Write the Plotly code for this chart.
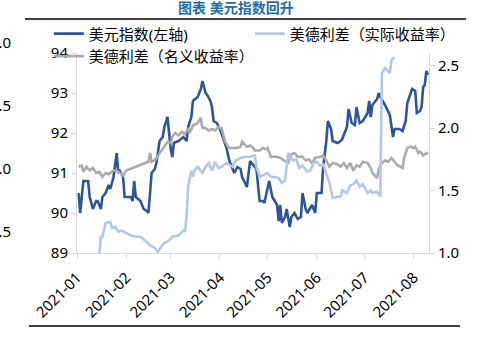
import pandas as pd
import plotly.graph_objects as go

# ---------------- data (day offset from 2021-01-01, value) ----------------
dxy_days = [1, 2, 3, 4, 7, 8, 10, 12, 13, 15, 16, 18, 20, 21, 23, 25, 26, 27, 29, 30,
            32, 34, 35, 36, 37, 40, 42, 44, 45, 46, 47, 49, 50, 52, 54, 55, 57, 58, 59, 60,
            61, 64, 67, 68, 69, 70, 72, 73, 76, 78, 79, 81, 82, 84, 85, 86, 88, 90, 92, 94,
            96, 98, 99, 101, 103, 104, 107, 109, 111, 113, 115, 117, 118, 120, 121, 123, 125, 126, 127, 128,
            129, 131, 132, 134, 135, 137, 139, 141, 142, 144, 145, 148, 150, 151, 154, 155, 157, 158, 160, 161,
            164, 166, 167, 170, 171, 173, 175, 176, 178, 180, 183, 184, 185, 186, 189, 190, 191, 194, 197, 199,
            200, 203, 205, 207, 208, 210, 211, 213, 214, 216, 217, 218, 219, 220, 221]
dxy_vals = [90.5, 90.0, 90.4, 90.8, 90.8, 90.4, 90.1, 90.3, 90.3, 90.1, 90.4, 90.5, 90.7, 90.6, 90.9, 91.5, 91.0, 91.05, 90.9, 90.4,
            90.4, 90.4, 90.3, 90.8, 90.4, 90.3, 90.1, 90.05, 90.0, 90.65, 91.0, 91.1, 91.25, 91.8, 91.9, 92.15, 92.4, 92.0, 91.6, 91.4,
            91.75, 91.8, 91.9, 91.85, 91.8, 92.15, 92.4, 92.8, 92.9, 93.1, 93.3, 93.0, 92.95, 92.8, 92.65, 92.3, 92.25, 92.1, 91.9, 91.65,
            91.3, 91.1, 91.0, 91.15, 91.1, 90.9, 90.65, 91.3, 91.2, 91.1, 90.3, 90.3, 90.25, 90.6, 90.8, 90.4, 90.25, 90.2, 89.8, 90.2,
            89.75, 89.9, 90.1, 89.65, 89.9, 90.0, 89.85, 89.9, 90.5, 90.1, 90.0, 90.2, 90.0, 90.5, 90.5, 91.15, 91.8, 92.3, 92.1, 91.8,
            91.75, 91.8, 91.85, 92.15, 92.6, 92.25, 92.2, 92.65, 92.25, 92.3, 92.5, 92.8, 92.4, 92.7, 92.85, 93.0, 92.9, 92.7, 92.45, 91.9,
            92.1, 92.1, 92.05, 92.3, 92.75, 92.95, 93.1, 93.05, 92.5, 92.55, 92.65, 93.15, 93.2, 93.55, 93.45]

real_days = [14, 15, 16, 18, 21, 22, 24, 26, 28, 31, 34, 37, 40, 43, 46, 49, 51, 53, 55, 58,
             60, 64, 67, 68, 69, 70, 72, 73, 74, 76, 79, 81, 83, 85, 87, 89, 91, 94, 98, 100,
             103, 106, 109, 112, 113, 115, 117, 120, 122, 123, 127, 129, 131, 133, 134, 136, 138, 140, 142, 145,
             147, 149, 151, 153, 155, 157, 159, 161, 164, 166, 167, 170, 172, 174, 176, 178, 180, 183, 185, 186,
             189, 191, 192, 194, 196, 197, 198, 199, 200]
real_vals = [0.97, 1.13, 1.13, 1.24, 1.25, 1.20, 1.21, 1.17, 1.18, 1.16, 1.14, 1.13, 1.13, 1.10, 1.06, 1.04, 1.01, 1.05, 1.08, 1.10,
             1.13, 1.14, 1.18, 1.17, 1.29, 1.53, 1.66, 1.61, 1.66, 1.69, 1.64, 1.69, 1.72, 1.66, 1.73, 1.68, 1.69, 1.72, 1.69, 1.74,
             1.76, 1.77, 1.77, 1.78, 1.69, 1.61, 1.62, 1.64, 1.61, 1.61, 1.60, 1.56, 1.58, 1.80, 1.78, 1.74, 1.75, 1.68, 1.70, 1.65,
             1.66, 1.72, 1.73, 1.70, 1.71, 1.64, 1.56, 1.44, 1.45, 1.45, 1.50, 1.48, 1.54, 1.55, 1.58, 1.53, 1.55, 1.48, 1.50, 1.48,
             1.49, 1.45, 2.44, 2.48, 2.45, 2.44, 2.54, 2.56, 2.56]

nom_days = [1, 3, 4, 6, 8, 10, 12, 14, 16, 18, 20, 23, 25, 27, 29, 31, 33, 35, 37, 38,
            40, 43, 45, 46, 47, 49, 51, 53, 55, 57, 59, 60, 62, 64, 66, 68, 70, 71, 73, 76,
            78, 79, 81, 83, 85, 87, 89, 90, 91, 93, 95, 96, 98, 101, 103, 104, 107, 109, 111, 112,
            114, 115, 117, 119, 120, 122, 123, 126, 128, 131, 133, 135, 137, 139, 142, 144, 146, 148, 150, 153,
            155, 157, 159, 161, 164, 166, 168, 170, 172, 174, 176, 178, 180, 183, 185, 186, 189, 190, 192, 194,
            196, 198, 200, 202, 205, 206, 208, 210, 212, 213, 215, 216, 217, 218, 220, 221]
nom_vals = [1.69, 1.70, 1.65, 1.69, 1.66, 1.68, 1.64, 1.65, 1.61, 1.64, 1.63, 1.66, 1.66, 1.64, 1.62, 1.66, 1.67, 1.68, 1.69, 1.69,
            1.70, 1.72, 1.73, 1.80, 1.73, 1.74, 1.78, 1.82, 1.86, 1.89, 1.88, 1.93, 1.96, 1.94, 1.97, 1.95, 2.00, 1.96, 2.02, 2.04,
            2.08, 2.00, 2.00, 1.98, 1.99, 1.98, 2.01, 2.00, 2.00, 1.90, 1.85, 1.84, 1.84, 1.84, 1.85, 1.89, 1.85, 1.86, 1.84, 1.82,
            1.82, 1.82, 1.84, 1.83, 1.84, 1.77, 1.77, 1.77, 1.76, 1.74, 1.72, 1.79, 1.80, 1.77, 1.77, 1.74, 1.75, 1.72, 1.76, 1.77,
            1.78, 1.74, 1.69, 1.72, 1.71, 1.69, 1.72, 1.68, 1.72, 1.66, 1.70, 1.69, 1.73, 1.72, 1.68, 1.64, 1.60, 1.67, 1.72, 1.74,
            1.73, 1.76, 1.73, 1.70, 1.68, 1.76, 1.84, 1.85, 1.84, 1.85, 1.80, 1.81, 1.80, 1.78, 1.80, 1.79]

tick_vals = ["2021-01-01", "2021-02-01", "2021-03-01", "2021-04-01",
             "2021-05-01", "2021-06-01", "2021-07-01", "2021-08-01"]
tick_text = ["2021-01", "2021-02", "2021-03", "2021-04",
             "2021-05", "2021-06", "2021-07", "2021-08"]

names = ["美元指数(左轴)", "美德利差（实际收益率）", "美德利差（名义收益率）"]
title_text = "图表 美元指数回升"
side_labels = ["2.0", "1.5", "1.0", "0.5"]

base = pd.Timestamp("2021-01-01")
def to_dates(days):
    return [base + pd.Timedelta(days=d) for d in days]

FONT = "Noto Sans, Noto Sans CJK SC, sans-serif"
AX = "#D9D9D9"

fig = go.Figure()
fig.add_trace(go.Scatter(x=to_dates(nom_days), y=nom_vals, name=names[2], yaxis="y2",
                         mode="lines", line=dict(color="#ABABAB", width=2.6), legendrank=3))
fig.add_trace(go.Scatter(x=to_dates(real_days), y=real_vals, name=names[1], yaxis="y2",
                         mode="lines", line=dict(color="#B4C7E7", width=2.6), legendrank=2))
fig.add_trace(go.Scatter(x=to_dates(dxy_days), y=dxy_vals, name=names[0], yaxis="y",
                         mode="lines", line=dict(color="#2F5597", width=2.6), legendrank=1))

fig.update_layout(
    width=483, height=343,
    margin=dict(l=77, r=54, t=53, b=90),
    paper_bgcolor="white", plot_bgcolor="white",
    font=dict(family=FONT, size=15, color="#000000"),
    showlegend=True,
    legend=dict(orientation="h", x=-0.08, xanchor="left", y=1.178, yanchor="top",
                entrywidth=156, bgcolor="rgba(0,0,0,0)", font=dict(size=15),
                traceorder="normal"),
    xaxis=dict(range=["2021-01-01", "2021-08-10 16:00"], tickvals=tick_vals, ticktext=tick_text,
               tickangle=-45, showgrid=False, showline=True, linecolor=AX, linewidth=1,
               ticks="outside", ticklen=5, tickcolor=AX, zeroline=False, ticklabelstandoff=4),
    yaxis=dict(range=[89, 94], dtick=1, showgrid=False, showline=True, linecolor=AX, linewidth=1,
               ticks="outside", ticklen=5, tickcolor=AX, zeroline=False),
    yaxis2=dict(range=[1.0, 2.6], tickvals=[1.0, 1.5, 2.0, 2.5], tickformat=".1f",
                overlaying="y", side="right", showgrid=False, showline=True, linecolor=AX,
                linewidth=1, ticks="outside", ticklen=5, tickcolor=AX, zeroline=False),
)

# title and rules
fig.add_annotation(text="<b>" + title_text + "</b>", xref="paper", yref="paper",
                   x=(236 - 77) / 352, y=(253 - 7) / 200, xanchor="center", yanchor="middle",
                   showarrow=False, font=dict(size=14, color="#1F6EA6"))
fig.add_shape(type="line", xref="paper", yref="paper",
              x0=(25 - 77) / 352, x1=(466 - 77) / 352, y0=(253 - 19) / 200, y1=(253 - 19) / 200,
              line=dict(color="#000000", width=1.5))
fig.add_shape(type="line", xref="paper", yref="paper",
              x0=(29 - 77) / 352, x1=(460 - 77) / 352, y0=(253 - 326) / 200, y1=(253 - 326) / 200,
              line=dict(color="#000000", width=1.5))

# clipped axis labels of neighbouring chart at far left
for i, t in enumerate(side_labels):
    fig.add_annotation(text=t, xref="paper", yref="paper", x=(13 - 77) / 352,
                       y=(253 - (42 + 63 * i)) / 200, xanchor="right", yanchor="middle",
                       showarrow=False, font=dict(size=15, color="#000000"))

fig.write_html("out.html")
